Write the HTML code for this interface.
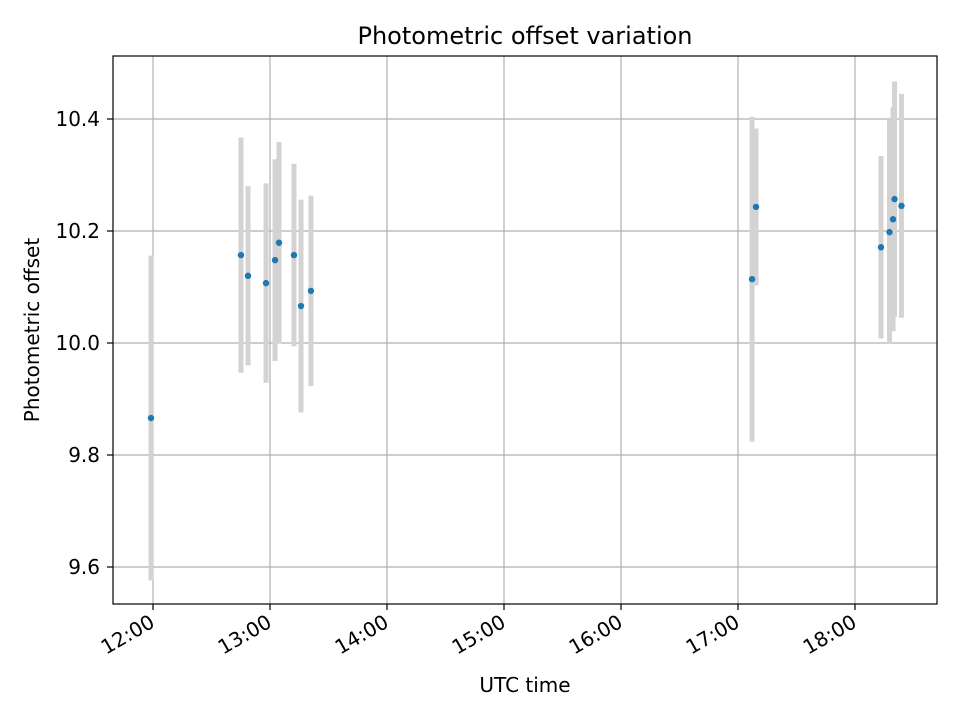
<!DOCTYPE html>
<html><head><meta charset="utf-8"><style>
body{margin:0;background:#fff;font-family:"DejaVu Sans","Liberation Sans",sans-serif}
</style></head><body>
<svg id="chart" width="960" height="720" xmlns="http://www.w3.org/2000/svg" font-family="DejaVu Sans, Liberation Sans, sans-serif"></svg>
<script>
const times=[11.983,12.752,12.812,12.966,13.043,13.077,13.205,13.265,13.350,17.120,17.154,18.222,18.295,18.325,18.338,18.397];
const values=[9.866,10.157,10.120,10.107,10.148,10.179,10.157,10.066,10.093,10.114,10.243,10.171,10.198,10.221,10.257,10.245];
const errors=[0.29,0.21,0.16,0.178,0.18,0.18,0.163,0.19,0.17,0.29,0.14,0.163,0.2,0.2,0.21,0.2];
const xTicks=[12,13,14,15,16,17,18];
const xTickLabels=["12:00","13:00","14:00","15:00","16:00","17:00","18:00"];
const yTicks=[9.6,9.8,10.0,10.2,10.4];
const yTickLabels=["9.6","9.8","10.0","10.2","10.4"];
const L=113,R=937,T=56,B=604;
const X=h=>153+(h-12)*117;
const Y=v=>343-(v-10)*560;
const svg=document.getElementById('chart');
const NS='http://www.w3.org/2000/svg';
function mk(tag,attrs,parent){const e=document.createElementNS(NS,tag);for(const k in attrs)e.setAttribute(k,attrs[k]);(parent||svg).appendChild(e);return e;}
const grid=mk('g',{});
xTicks.forEach((t,i)=>{const x=X(t);
 mk('line',{x1:x,x2:x,y1:T,y2:B,stroke:'#b0b0b0','stroke-width':1.2},grid);
 mk('line',{x1:x,x2:x,y1:B,y2:B+6,stroke:'#000','stroke-width':1.2});
 const tx=mk('text',{x:x+3,y:B+22,'font-size':20,'text-anchor':'end',transform:`rotate(-30 ${x+3} ${B+22})`,fill:'#000'});
 tx.textContent=xTickLabels[i];});
yTicks.forEach((t,i)=>{const y=Y(t);
 mk('line',{x1:L,x2:R,y1:y,y2:y,stroke:'#b0b0b0','stroke-width':1.2},grid);
 mk('line',{x1:L-6,x2:L,y1:y,y2:y,stroke:'#000','stroke-width':1.2});
 const tx=mk('text',{x:L-13,y:y+7,'font-size':20,'text-anchor':'end',fill:'#000'});
 tx.textContent=yTickLabels[i];});
const eb=mk('g',{});
times.forEach((t,i)=>{const r=mk('rect',{x:X(t)-2.5,y:Y(values[i]+errors[i]),width:5,height:Y(values[i]-errors[i])-Y(values[i]+errors[i]),fill:'#d3d3d3'},eb);
 });
const pts=mk('g',{});
times.forEach((t,i)=>{const c=mk('circle',{cx:X(t),cy:Y(values[i]),r:3.2,fill:'#1f77b4'},pts);
 });
const frame=mk('rect',{x:L,y:T,width:R-L,height:B-T,fill:'none',stroke:'#000','stroke-width':1.2});

const title=mk('text',{x:(L+R)/2,y:44,'font-size':24,'text-anchor':'middle',fill:'#000'});
title.textContent='Photometric offset variation';
const xl=mk('text',{x:(L+R)/2,y:692,'font-size':20,'text-anchor':'middle',fill:'#000'});
xl.textContent='UTC time';
const yl=mk('text',{x:39,y:(T+B)/2,'font-size':20,'text-anchor':'middle',fill:'#000',transform:`rotate(-90 39 ${(T+B)/2})`});
yl.textContent='Photometric offset';
</script>
</body></html>
